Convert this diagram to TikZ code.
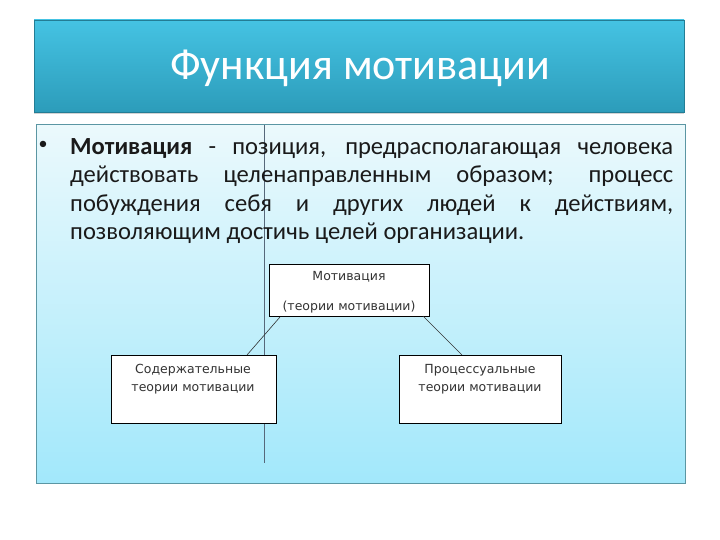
\documentclass[tikz,border=0pt]{standalone}
\usepackage{fontspec}
\setmainfont{Carlito}
\newfontfamily\boxfont{DejaVu Sans}
\usetikzlibrary{shadows}
\definecolor{titletop}{HTML}{45C3E3}
\definecolor{titlebot}{HTML}{2C9CBA}
\definecolor{paneltop}{HTML}{EBF9FC}
\definecolor{panelbot}{HTML}{A2E8FB}
\definecolor{panelborder}{HTML}{5B96A3}
\definecolor{vline}{HTML}{56687A}
\definecolor{bodytext}{HTML}{1A1A1A}
\tikzset{
  titlebox/.style={draw=titlebot!80!black, line width=0.6pt, top color=titletop, bottom color=titlebot,
    drop shadow={shadow xshift=0pt, shadow yshift=-2pt, opacity=0.35}},
  panel/.style={draw=panelborder, line width=1pt, top color=paneltop, bottom color=panelbot},
  diagbox/.style={draw=black, line width=0.8pt, fill=white, inner sep=0pt},
  boxtext/.style={font=\boxfont\fontsize{12.5}{18}\selectfont, align=center, text=black!80, inner sep=0pt},
  conn/.style={draw=black!80, line width=0.6pt}
}
\begin{document}
\begin{tikzpicture}[x=1pt,y=-1pt]
\useasboundingbox (0,0) rectangle (720,540);
% title
\path[titlebox] (34,20) rectangle (684,112);
\node (title) at (360,68) {\fontsize{44}{50}\selectfont\color{white}Функция мотивации};
% panel
\path[panel] (36,125) rectangle (685,483);
\coordinate (vtop) at (264,125);
\coordinate (vbot) at (264,463);
\draw[vline, line width=0.8pt] (vtop) -- (vbot);
% text
\node[text=bodytext] (bullet) at (43,145) {\fontsize{18}{24}\selectfont •};
\node[anchor=north west, inner sep=0pt, text width=603pt, align=justify, text=bodytext] (para) at (70,138)
 {\fontsize{24.6}{28.5}\selectfont\hyphenpenalty=10000
 \textbf{Мотивация} - позиция, предрасполагающая человека\linebreak
 действовать целенаправленным образом; процесс\linebreak
 побуждения себя и других людей к действиям,\linebreak
 позволяющим достичь целей организации.\par};
% boxes
\path[diagbox] (269,264) rectangle (429,316);
\node[boxtext] (m1) at (349,277) {Мотивация};
\node[boxtext] (m2) at (349,307) {(теории мотивации)};
\coordinate (mL) at (280,317);
\coordinate (mR) at (423,316);
\path[diagbox] (111,355) rectangle (276,423);
\node[boxtext] (left) at (193,379) {Содержательные\\теории мотивации};
\coordinate (lT) at (247,355);
\path[diagbox] (399,355) rectangle (561,423);
\node[boxtext] (right) at (480,379) {Процессуальные\\теории мотивации};
\coordinate (rT) at (462,355);
\draw[conn] (mL) -- (lT);
\draw[conn] (mR) -- (rT);
\end{tikzpicture}
\end{document}
